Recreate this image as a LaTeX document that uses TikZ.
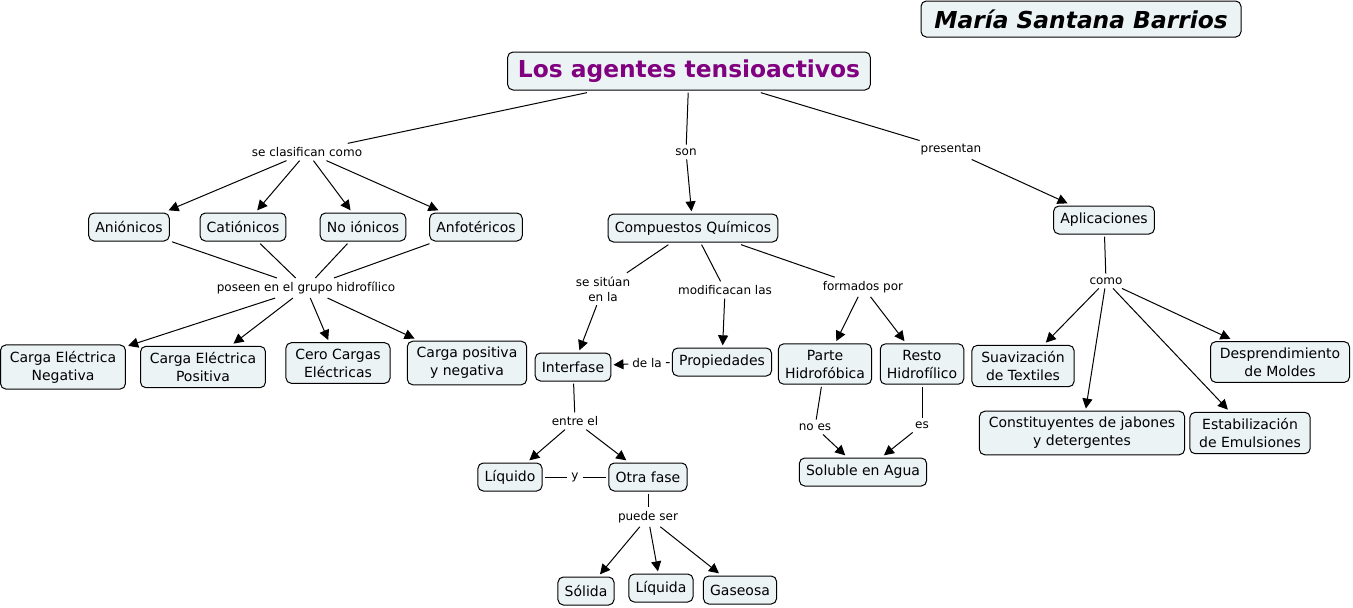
\documentclass[tikz,border=0pt]{standalone}
\usepackage{fontspec}
\setmainfont{DejaVu Sans}
\usetikzlibrary{arrows.meta}
\definecolor{boxfill}{RGB}{236,243,245}
\definecolor{titlecol}{RGB}{128,0,128}
\tikzset{
  concept/.style={draw=black, line width=0.75pt, fill=boxfill, rounded corners=4pt,
    inner xsep=5pt, inner ysep=4.5pt, minimum height=21pt, align=center, outer sep=2pt,
    font=\fontsize{10.5}{13.5}\selectfont},
  twoline/.style={concept, inner xsep=7pt},
  lbl/.style={inner sep=1pt, outer sep=2pt, align=center, font=\fontsize{9}{11}\selectfont},
  link/.style={line width=0.75pt, black},
  arr/.style={link, -{Triangle[length=7.5pt,width=7.5pt]}},
}
\begin{document}
\begin{tikzpicture}[x=0.75pt,y=-0.75pt]
\useasboundingbox (0,0) rectangle (1353,607);
% concepts
\node[concept, font=\fontsize{17.5}{20}\selectfont\bfseries\itshape, minimum width=240pt, minimum height=27pt] (author) at (1081,19) {María Santana Barrios};
\node[concept, font=\fontsize{17.5}{20}\selectfont\bfseries, text=titlecol, minimum width=272pt, minimum height=28.5pt] (title) at (689,71) {Los agentes tensioactivos};
\node[concept] (anion) at (129,227) {Aniónicos};
\node[concept] (cation) at (243,227) {Catiónicos};
\node[concept] (noion) at (363,227) {No iónicos};
\node[concept] (anfo) at (476,227) {Anfotéricos};
\node[concept] (comp) at (693,228) {Compuestos Químicos};
\node[concept] (aplic) at (1104,220) {Aplicaciones};
\node[twoline] (cen) at (63,367) {Carga Eléctrica\\Negativa};
\node[twoline] (cep) at (203,367) {Carga Eléctrica\\Positiva};
\node[twoline] (cero) at (338,363) {Cero Cargas\\Eléctricas};
\node[twoline] (cpn) at (467,363) {Carga positiva\\y negativa};
\node[concept] (inter) at (573,367) {Interfase};
\node[concept] (prop) at (722,362) {Propiedades};
\node[concept] (parte) at (825,364) {Parte\\Hidrofóbica};
\node[concept] (resto) at (922,364) {Resto\\Hidrofílico};
\node[twoline] (suav) at (1023,366) {Suavización\\de Textiles};
\node[twoline] (despr) at (1280,362) {Desprendimiento\\de Moldes};
\node[twoline] (const) at (1082,433) {Constituyentes de jabones\\y detergentes};
\node[twoline] (estab) at (1250,433) {Estabilización\\de Emulsiones};
\node[concept] (solu) at (863,472) {Soluble en Agua};
\node[concept] (liq) at (510,477) {Líquido};
\node[concept] (otra) at (648,477) {Otra fase};
\node[concept] (solida) at (586,591) {Sólida};
\node[concept] (liquida) at (661,588) {Líquida};
\node[concept] (gas) at (740,590) {Gaseosa};
% labels
\node[lbl] (l1) at (307,152) {se clasifican como};
\node[lbl] (l2) at (686,152) {son};
\node[lbl] (l3) at (951,150) {presentan};
\node[lbl] (l4) at (306,288) {poseen en el grupo hidrofílico};
\node[lbl] (l5) at (603,289) {se sitúan\\en la};
\node[lbl] (l6) at (725,290) {modificacan las};
\node[lbl] (l7) at (863,287) {formados por};
\node[lbl] (l8) at (647,363) {de la};
\node[lbl] (l9) at (575,421) {entre el};
\node[lbl] (l10) at (575,477) {y};
\node[lbl] (l11) at (648,517) {puede ser};
\node[lbl] (l12) at (815,427) {no es};
\node[lbl] (l13) at (922,425) {es};
\node[lbl] (l14) at (1106,281) {como};
% connectors
\draw[link] (title) -- (l1);
\foreach \t in {anion,cation,noion,anfo} \draw[arr] (l1) -- (\t);
\draw[link] (title) -- (l2); \draw[arr] (l2) -- (comp);
\draw[link] (title) -- (l3); \draw[arr] (l3) -- (aplic);
\foreach \s in {anion,cation,noion,anfo} \draw[link] (\s) -- (l4);
\foreach \t in {cen,cep,cero,cpn} \draw[arr] (l4) -- (\t);
\draw[link] (comp) -- (l5); \draw[arr] (l5) -- (inter);
\draw[link] (comp) -- (l6); \draw[arr] (l6) -- (prop);
\draw[link] (comp) -- (l7); \draw[arr] (l7) -- (parte); \draw[arr] (l7) -- (resto);
\draw[link] (prop) -- (l8); \draw[arr] (l8) -- (inter);
\draw[link] (inter) -- (l9); \draw[arr] (l9) -- (liq); \draw[arr] (l9) -- (otra);
\draw[link] (liq) -- (l10); \draw[link] (l10) -- (otra);
\draw[link] (otra) -- (l11);
\foreach \t in {solida,liquida,gas} \draw[arr] (l11) -- (\t);
\draw[link] (parte) -- (l12); \draw[arr] (l12) -- (solu);
\draw[link] (resto) -- (l13); \draw[arr] (l13) -- (solu);
\draw[link] (aplic) -- (l14);
\foreach \t in {suav,const,estab,despr} \draw[arr] (l14) -- (\t);
\end{tikzpicture}
\end{document}
